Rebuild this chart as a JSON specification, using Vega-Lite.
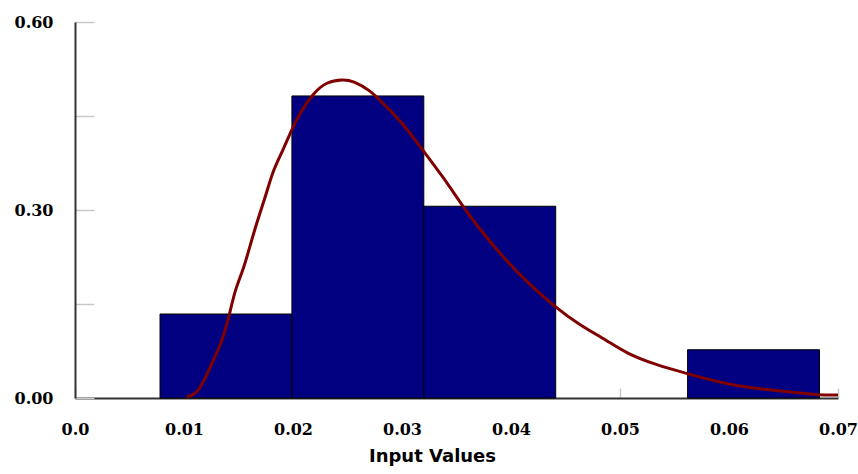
{
  "$schema": "https://vega.github.io/schema/vega-lite/v6.json",
  "width": 763,
  "height": 376,
  "autosize": {"type": "none"},
  "padding": {"left": 75, "top": 22, "right": 20, "bottom": 76},
  "background": "white",
  "config": {"view": {"stroke": null}},
  "datasets": {
    "bins": [
      {"lo": 0.0078, "hi": 0.0199, "density": 0.134},
      {"lo": 0.0199, "hi": 0.0320, "density": 0.482},
      {"lo": 0.0320, "hi": 0.0441, "density": 0.306},
      {"lo": 0.0562, "hi": 0.0683, "density": 0.077}
    ],
    "fit": [
      {"x": 0.01024, "y": 0.002},
      {"x": 0.0110, "y": 0.005},
      {"x": 0.01176, "y": 0.0235},
      {"x": 0.01268, "y": 0.0606},
      {"x": 0.01345, "y": 0.0872},
      {"x": 0.01421, "y": 0.1352},
      {"x": 0.01467, "y": 0.1723},
      {"x": 0.01543, "y": 0.2042},
      {"x": 0.01604, "y": 0.2414},
      {"x": 0.01665, "y": 0.2788},
      {"x": 0.01757, "y": 0.3266},
      {"x": 0.01818, "y": 0.3638},
      {"x": 0.01909, "y": 0.3957},
      {"x": 0.01986, "y": 0.4276},
      {"x": 0.02062, "y": 0.4543},
      {"x": 0.02184, "y": 0.4862},
      {"x": 0.02307, "y": 0.5047},
      {"x": 0.02459, "y": 0.5085},
      {"x": 0.02551, "y": 0.5063},
      {"x": 0.02704, "y": 0.4915},
      {"x": 0.02826, "y": 0.4702},
      {"x": 0.03009, "y": 0.4383},
      {"x": 0.03178, "y": 0.3984},
      {"x": 0.03376, "y": 0.3531},
      {"x": 0.03559, "y": 0.3053},
      {"x": 0.03742, "y": 0.2628},
      {"x": 0.03926, "y": 0.2255},
      {"x": 0.04140, "y": 0.1856},
      {"x": 0.04400, "y": 0.1457},
      {"x": 0.04629, "y": 0.1165},
      {"x": 0.04874, "y": 0.0925},
      {"x": 0.05057, "y": 0.0713},
      {"x": 0.05332, "y": 0.0527},
      {"x": 0.05607, "y": 0.0394},
      {"x": 0.05942, "y": 0.0235},
      {"x": 0.06217, "y": 0.0155},
      {"x": 0.06554, "y": 0.0101},
      {"x": 0.06798, "y": 0.0048},
      {"x": 0.0700, "y": 0.0048}
    ]
  },
  "layer": [
    {
      "data": {"name": "bins"},
      "mark": {"type": "rect", "fill": "#000080", "stroke": "#000000", "strokeWidth": 1},
      "encoding": {
        "x": {
          "field": "lo", "type": "quantitative",
          "scale": {"domain": [0, 0.07], "nice": false, "zero": false},
          "axis": {
            "title": "Input Values",
            "values": [0, 0.01, 0.02, 0.03, 0.04, 0.05, 0.06, 0.07],
            "labelExpr": "datum.value == 0 ? '0.0' : format(datum.value, '.2f')",
            "labelFont": "DejaVu Serif",
            "labelFontWeight": "bold",
            "labelFontSize": 16,
            "labelColor": "#000000",
            "labelPadding": 33,
            "labelFlush": false,
            "labelOverlap": false,
            "tickSize": -10,
            "tickColor": "#c8c8c8",
            "tickWidth": 1.5,
            "domainColor": "#333333",
            "domainWidth": 2,
            "grid": false,
            "titleFont": "DejaVu Sans",
            "titleFontWeight": "bold",
            "titleFontSize": 18,
            "titleColor": "#000000",
            "titleAnchor": "start",
            "titleAlign": "center",
            "titleBaseline": "alphabetic",
            "titleX": 357,
            "titleY": 63
          }
        },
        "x2": {"field": "hi"},
        "y": {
          "field": "density", "type": "quantitative",
          "scale": {"domain": [0, 0.6], "nice": false},
          "axis": {
            "title": null,
            "values": [0, 0.15, 0.3, 0.45, 0.6],
            "labelExpr": "datum.value == 0.15 || datum.value == 0.45 ? '' : format(datum.value, '.2f')",
            "labelFont": "DejaVu Serif",
            "labelFontWeight": "bold",
            "labelFontSize": 16,
            "labelColor": "#000000",
            "labelPadding": 41,
            "labelFlush": false,
            "labelOverlap": false,
            "tickSize": -19,
            "tickColor": "#c8c8c8",
            "tickWidth": 1.5,
            "domainColor": "#333333",
            "domainWidth": 2,
            "grid": false
          }
        },
        "y2": {"datum": 0}
      }
    },
    {
      "data": {"name": "fit"},
      "mark": {"type": "line", "color": "#800000", "strokeWidth": 3, "interpolate": "basis"},
      "encoding": {
        "x": {"field": "x", "type": "quantitative"},
        "y": {"field": "y", "type": "quantitative"}
      }
    }
  ]
}
